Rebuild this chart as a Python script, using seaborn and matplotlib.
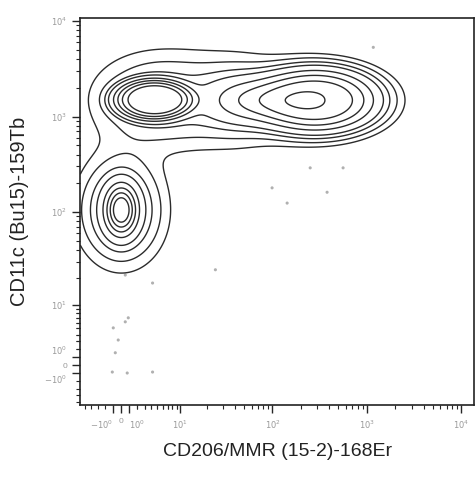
import numpy as np
import pandas as pd
import seaborn as sns
import matplotlib
matplotlib.use("Agg")
import matplotlib.pyplot as plt

sns.set_style("ticks")
plt.rcParams["font.family"] = ["Liberation Sans", "DejaVu Sans"]

# populations:
# centre in data units, spread in asinh units, relative height, shape exponent
pop_names = ["A core", "A base", "B core", "B base", "C core", "C tail", "B-C envelope"]
pop_x = [0.0, 0.0, 4.3, 4.3, 300.0, 45.3, 35.6]
pop_y = [105.0, 105.0, 1500.0, 1500.0, 1480.0, 1480.0, 1480.0]
pop_sx = [0.244, 0.61, 0.80, 0.93, 1.2, 0.61, 1.2]
pop_sy = [0.386, 0.77, 0.41, 0.67, 0.62, 0.43, 0.75]
pop_h = [0.7, 0.35, 0.8, 0.2, 0.83, 0.3, 0.13]
pop_p = [2, 2, 4, 2, 3, 2, 2]

# isolated events outside the contours
dots_x = [-0.98, 0.49, 0.86, -0.37, -0.73, -1.1, 0.49, 4.2, 4.2, 0.73,
          251, 560, 99, 143, 379, 1170, 24.6]
dots_y = [5.1, 6.2, 7.0, 3.2, 1.5, -0.85, 21.6, 17.7, -0.85, -0.97,
          290, 290, 179, 124, 161, 5300, 24.6]

tick_vals = [-1, 0, 1, 10, 100, 1000, 10000]
tick_text = ["$-10^0$", "0", "$10^0$", "$10^1$", "$10^2$", "$10^3$", "$10^4$"]
levels = [0.05, 0.1, 0.17, 0.25, 0.4, 0.55, 0.7, 0.85]

W = 5.0  # asinh linear width


def density_grid():
    ux = np.linspace(-1.0, 8.6, 450)
    uy = np.linspace(-1.0, 8.4, 450)
    UX, UY = np.meshgrid(ux, uy)
    D = np.zeros_like(UX)
    for x, y, sx, sy, h, p in zip(pop_x, pop_y, pop_sx, pop_sy, pop_h, pop_p):
        cx, cy = np.arcsinh(x / W), np.arcsinh(y / W)
        q = ((UX - cx) / sx) ** 2 + ((UY - cy) / sy) ** 2
        D += h * np.exp(-0.5 * q ** (p / 2))
    return W * np.sinh(UX), W * np.sinh(UY), D


fig = plt.figure(figsize=(4.77, 4.79), dpi=100)
ax = fig.add_axes([0.168, 0.1545, 0.826, 0.8075])
ax.set_xscale("asinh", linear_width=W)
ax.set_yscale("asinh", linear_width=W)

X, Y, D = density_grid()
ax.contour(X, Y, D, levels=levels, colors="#2b2b2b", linewidths=1.0)

dots = pd.DataFrame({"x": dots_x, "y": dots_y})
sns.scatterplot(data=dots, x="x", y="y", ax=ax, s=5, color="#b0b0b0", edgecolor="none")

ax.set_xlim(-5.9, 13700)
ax.set_ylim(-5.6, 10700)

minor = []
for dec in [1, 10, 100, 1000]:
    minor += [dec * k for k in range(2, 10)]
minor += [-5, -4, -3, -2, 2, 3, 4, 5, 6, 7, 8, 9]
for axis in (ax.xaxis, ax.yaxis):
    axis.set_ticks(tick_vals)
    axis.set_ticklabels(tick_text)
    axis.set_ticks(minor, minor=True)

ax.tick_params(which="major", length=6, width=1.0, labelsize=6, labelcolor="#9a9a9a", direction="out")
ax.tick_params(which="minor", length=3, width=0.8, direction="out")
xl = ax.get_xticklabels()
xl[0].set_ha("right")
xl[2].set_ha("left")
yl = ax.get_yticklabels()
yl[0].set_va("top")
yl[2].set_va("bottom")
for sp in ax.spines.values():
    sp.set_linewidth(1.2)
    sp.set_color("#222222")

ax.set_xlabel("CD206/MMR (15-2)-168Er", fontsize=14, color="#222222", labelpad=9)
ax.set_ylabel("CD11c (Bu15)-159Tb", fontsize=14.5, color="#222222", labelpad=11)

fig.savefig("out.png", dpi=100)
